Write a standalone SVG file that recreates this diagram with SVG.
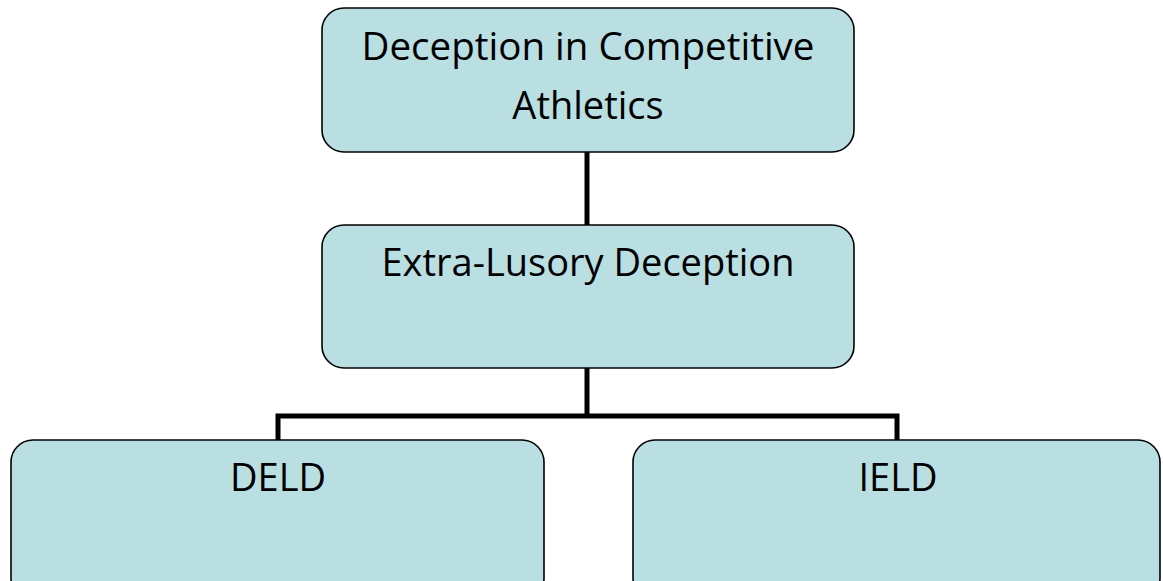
<svg xmlns="http://www.w3.org/2000/svg" width="1163" height="581" viewBox="0 0 1163 581">
<style>
.box{fill:#B9DFE2;stroke:#000;stroke-width:1.6}
.lbl{font-family:"Open Sans","Liberation Sans",sans-serif;font-size:38px;fill:#000;text-anchor:middle}
.conn{fill:none;stroke:#000;stroke-width:5}
</style>
<rect width="1163" height="581" fill="#fff"/>
<g id="connectors">
<line class="conn" x1="587" y1="152" x2="587" y2="225"/>
<path class="conn" d="M587 368 V416 M278 440 V416 H897 V440"/>
</g>
<g id="root">
<rect class="box" x="322" y="8" width="532" height="144" rx="22"/>
<text class="lbl" x="588" y="60" textLength="453" lengthAdjust="spacingAndGlyphs">Deception in Competitive</text>
<text class="lbl" x="588" y="119">Athletics</text>
</g>
<g id="extra">
<rect class="box" x="322" y="225" width="532" height="143" rx="22"/>
<text class="lbl" x="588" y="276">Extra-Lusory Deception</text>
</g>
<g id="deld">
<rect class="box" x="11" y="440" width="533" height="160" rx="22"/>
<text class="lbl" x="278" y="491">DELD</text>
</g>
<g id="ield">
<rect class="box" x="633" y="440" width="527" height="160" rx="22"/>
<text class="lbl" x="898" y="491">IELD</text>
</g>
</svg>
